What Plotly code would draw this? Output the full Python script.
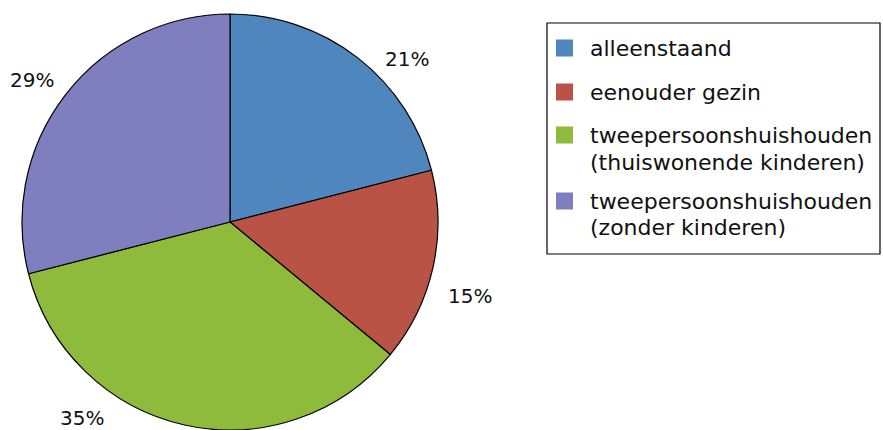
import plotly.graph_objects as go

# Household composition shares (percent)
categories = [
    "alleenstaand",
    "eenouder gezin",
    "tweepersoonshuishouden<br>(thuiswonende kinderen)",
    "tweepersoonshuishouden<br>(zonder kinderen)",
]
values = [21, 15, 35, 29]
colors = ["#4F86BE", "#B85346", "#8EBB3C", "#7F7EBE"]

W, H = 883, 430
FONT = "DejaVu Sans"


def px(x):
    return x / W


def py(y):
    return 1 - y / H


fig = go.Figure(
    go.Pie(
        labels=[c.replace("<br>", " ") for c in categories],
        values=values,
        sort=False,
        direction="clockwise",
        rotation=0,
        marker=dict(colors=colors, line=dict(color="#000000", width=1.2)),
        textinfo="none",
        hoverinfo="label+percent",
        showlegend=False,
        domain=dict(x=[px(20), px(440)], y=[0, py(14)]),
    )
)

# Percentage labels placed around the pie
label_pos = [(407, 59), (470, 296), (82, 418), (32, 80)]
for v, (lx, ly) in zip(values, label_pos):
    fig.add_annotation(
        x=px(lx), y=py(ly), xref="paper", yref="paper",
        text=f"{v}%", showarrow=False,
        xanchor="center", yanchor="middle",
        font=dict(family=FONT, size=20, color="#111111"),
    )

# Legend box with colour swatches
fig.add_shape(
    type="rect", xref="paper", yref="paper",
    x0=px(547), x1=px(880), y0=py(23), y1=py(254),
    line=dict(color="#000000", width=1.2), fillcolor="white",
)
entry_y = [48, 92, 135, 201]
line_gap = 27
for cat, col, ey in zip(categories, colors, entry_y):
    fig.add_shape(
        type="rect", xref="paper", yref="paper",
        x0=px(556), x1=px(573), y0=py(ey - 8.5), y1=py(ey + 8.5),
        line=dict(width=0), fillcolor=col,
    )
    for i, line in enumerate(cat.split("<br>")):
        fig.add_annotation(
            x=px(588), y=py(ey + i * line_gap), xref="paper", yref="paper",
            text=line, showarrow=False,
            xanchor="left", yanchor="middle",
            font=dict(family=FONT, size=22, color="#111111"),
        )

fig.update_layout(
    width=W, height=H,
    margin=dict(l=0, r=0, t=0, b=0),
    paper_bgcolor="white", plot_bgcolor="white",
    showlegend=False,
)

fig.write_html("out.html")
